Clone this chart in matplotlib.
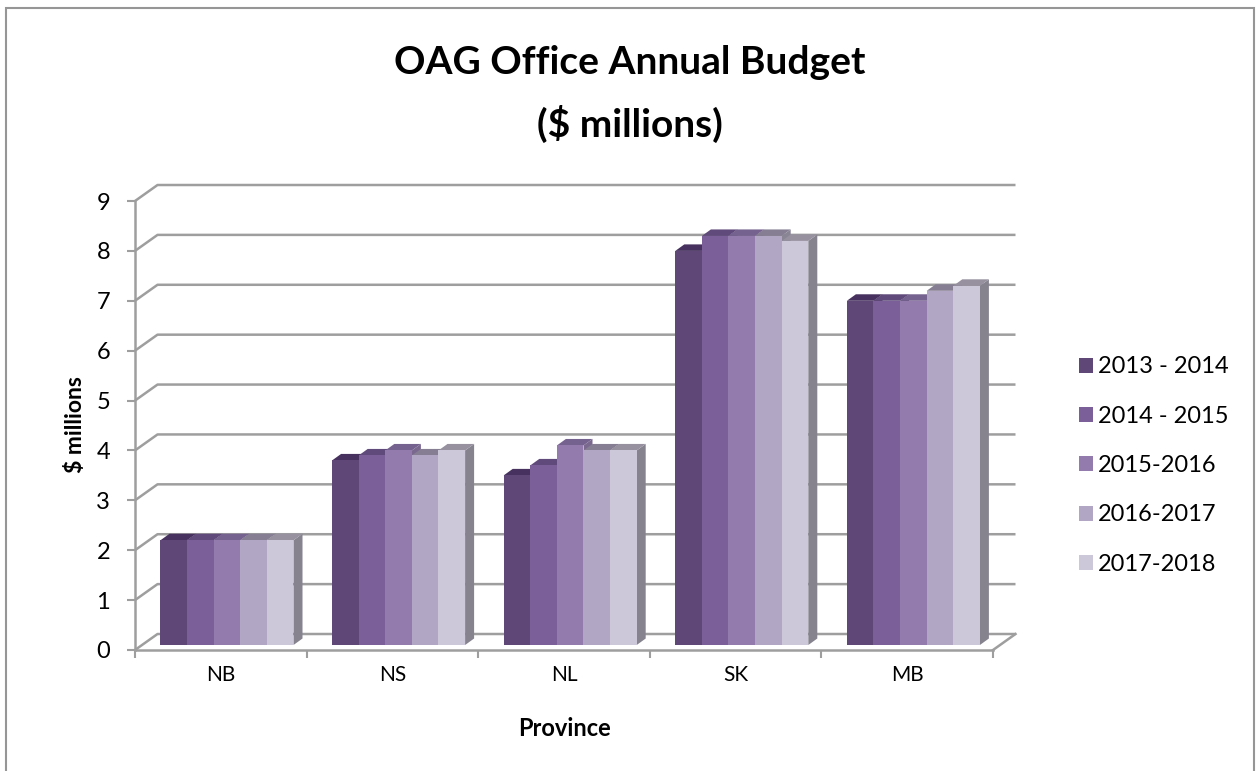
import matplotlib
matplotlib.use('Agg')
import matplotlib.pyplot as plt
from matplotlib.patches import Polygon, Rectangle

plt.rcParams['font.family'] = ['Lato', 'DejaVu Sans']

provinces = ['NB', 'NS', 'NL', 'SK', 'MB']
years = ['2013 - 2014', '2014 - 2015', '2015-2016', '2016-2017', '2017-2018']
nb = [2.1, 2.1, 2.1, 2.1, 2.1]
ns = [3.7, 3.8, 3.9, 3.8, 3.9]
nl = [3.4, 3.6, 4.0, 3.9, 3.9]
sk = [7.9, 8.2, 8.2, 8.2, 8.1]
mb = [6.9, 6.9, 6.9, 7.1, 7.2]
budgets = [nb, ns, nl, sk, mb]
yticks = list(range(10))

front = ['#5f4878', '#7a5f99', '#937cad', '#b1a7c4', '#cdc7da']
top = ['#46315f', '#604a7b', '#75628f', '#867f93', '#96909f']
side = ['#4f3d66', '#66507f', '#7a688f', '#8a8595', '#86838f']
gridc = '#9e9e9e'

W, H = 1256, 771
fig = plt.figure(figsize=(W / 100, H / 100), dpi=100)
# front plane of the 3d box
ax = fig.add_axes([135 / W, 1 - 650 / H, (993 - 135) / W, (650 - 201) / H])
ax.set_xlim(0, 5)
ax.set_ylim(0, 9)
ax.patch.set_alpha(0)
for s in ['top', 'right']:
    ax.spines[s].set_visible(False)
for s in ['left', 'bottom']:
    ax.spines[s].set_color(gridc)
    ax.spines[s].set_linewidth(1.8)

# wall depth, in data units
wx = 22.5 / 171.6
wy = 16 / 49.9
for v in yticks:
    ax.plot([0, wx, 5 + wx], [v, v + wy, v + wy], color=gridc, lw=1.8, clip_on=False,
            solid_capstyle='butt', zorder=1)
ax.plot([5, 5 + wx], [0, wy], color=gridc, lw=1.8, clip_on=False, zorder=1)

# bars
bw = 26.6 / 171.6
dx = 9 / 171.6
dy = 6.5 / 49.9
x0 = 0.1486
base = 0.1
for g, vals in enumerate(budgets):
    for i, v in enumerate(vals):
        l = g + x0 + i * bw
        r = l + bw
        t = base + v
        ax.add_patch(Polygon([(r, base), (r + dx, base + dy), (r + dx, t + dy), (r, t)],
                             fc=side[i], ec='none', clip_on=False, zorder=3))
        ax.add_patch(Polygon([(l, t), (l + dx, t + dy), (r + dx, t + dy), (r, t)],
                             fc=top[i], ec='none', clip_on=False, zorder=3))
        ax.add_patch(Rectangle((l, base), bw, v, fc=front[i], ec='none',
                               clip_on=False, zorder=3))

ax.set_xticks(range(6))
ax.set_xticklabels([])
ax.set_yticks(yticks)
ax.tick_params(axis='both', color=gridc, width=1.5, length=6, labelsize=17, labelcolor='black')
ax.tick_params(axis='y', pad=12)
for i, p in enumerate(provinces):
    ax.annotate(p, (i + 0.5, 0), xytext=(0, -18), textcoords='offset points',
                ha='center', va='center', fontsize=15)

fig.text(564 / W, 1 - 728 / H, 'Province', ha='center', va='center', fontsize=17, fontweight='bold')
fig.text(75 / W, 1 - 425 / H, '$ millions', ha='center', va='center', rotation=90,
         fontsize=16.5, fontweight='bold')
fig.text(630 / W, 1 - 62 / H, 'OAG Office Annual Budget', ha='center', va='center',
         fontsize=28, fontweight='bold')
fig.text(630 / W, 1 - 124 / H, '($ millions)', ha='center', va='center',
         fontsize=28, fontweight='bold')

handles = [Rectangle((0, 0), 1, 1, fc=c, ec='none') for c in front]
fig.legend(handles, years, loc='center left', bbox_to_anchor=(1079 / W, 1 - 465.5 / H),
           frameon=False, fontsize=17, handlelength=0.6, handleheight=0.6,
           handletextpad=0.22, labelspacing=1.2, borderpad=0, borderaxespad=0)

# outer chart frame, runs off the bottom of the picture
fig.add_artist(Rectangle((6 / W, -0.01), (1254 - 6) / W, 1 - 7.5 / H + 0.01, fill=False,
                         ec='#969696', lw=1.5, transform=fig.transFigure))

fig.savefig('out.png', dpi=100)
